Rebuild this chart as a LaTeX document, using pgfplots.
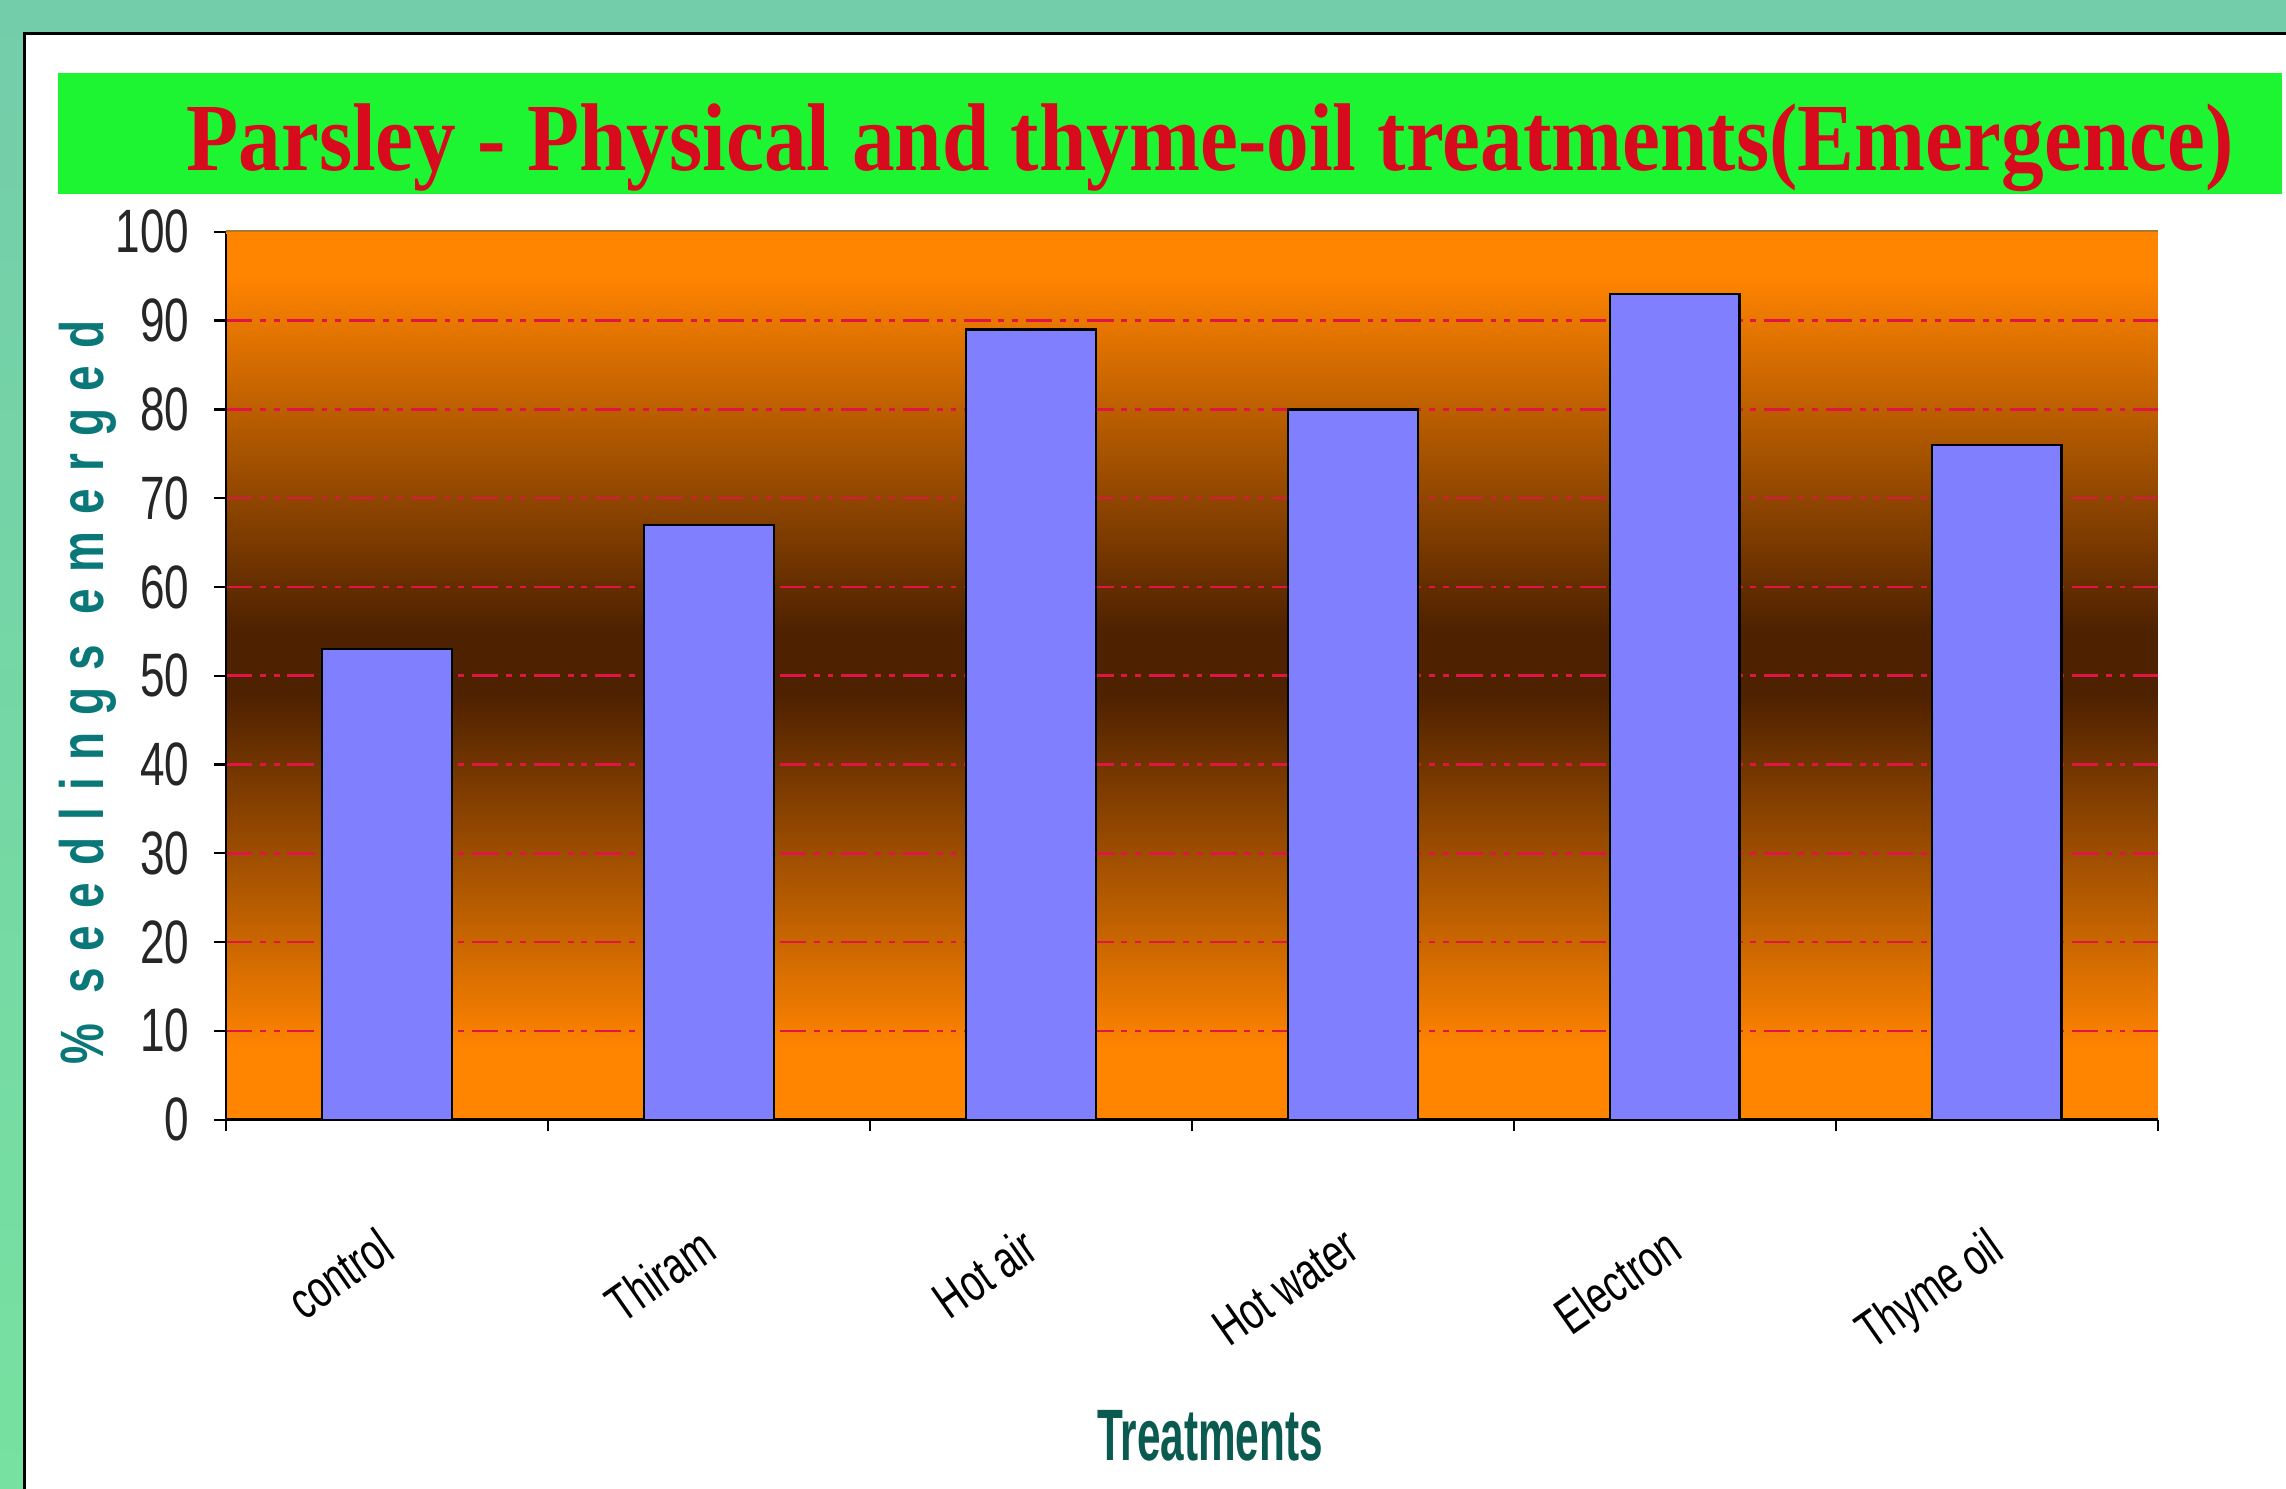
\documentclass[border=0pt]{standalone}
\usepackage{fontspec}
\setmainfont{Liberation Sans}
\newfontfamily\tickfont[FakeStretch=0.72]{Liberation Sans}
\newfontfamily\xlabfont[FakeStretch=0.58]{Liberation Sans}
\newfontfamily\ylabfont[FakeStretch=0.75,LetterSpace=28]{Liberation Sans}
\newfontfamily\titlefont{Liberation Serif}
\usepackage{graphicx}
\usepackage{pgfplots}
\pgfplotsset{compat=1.18}
\definecolor{orng}{RGB}{255,132,0}
\definecolor{dbrown}{RGB}{78,33,0}
\definecolor{barblue}{RGB}{128,128,255}
\definecolor{gridred}{RGB}{225,20,70}
\definecolor{tealbg}{RGB}{116,205,170}
\definecolor{tealbg2}{RGB}{118,225,160}
\definecolor{titlegreen}{RGB}{30,245,50}
\definecolor{titlered}{RGB}{215,10,30}
\definecolor{ylabteal}{RGB}{10,120,120}
\definecolor{xlabteal}{RGB}{10,90,80}
\definecolor{topedge}{RGB}{170,120,50}
\pgfdeclareverticalshading{bgshade}{100bp}{color(0bp)=(orng); color(29bp)=(orng); color(49bp)=(dbrown); color(52.5bp)=(dbrown); color(72.5bp)=(orng); color(100bp)=(orng)}
\begin{document}
\begin{tikzpicture}
\shade[top color=tealbg, bottom color=tealbg2] (-77.5pt,-126.5pt) rectangle (706.5pt,384pt);
\fill[white] (-69pt,-126.5pt) rectangle (706.5pt,372.5pt);
\draw[black, line width=1pt] (-69pt,-127pt) -- (-69pt,372.5pt) -- (707pt,372.5pt);
\fill[titlegreen] (-57.5pt,317.5pt) rectangle (705pt,359pt);
\begin{axis}[
  at={(0pt,0pt)}, anchor=south west,
  scale only axis, width=662.5pt, height=304.5pt,
  xmin=-0.5, xmax=5.5, ymin=0, ymax=100,
  clip=false,
  axis lines=left, axis line style={-, line width=1pt, black},
  axis background/.style={shade, shading=bgshade},
  ytick={0,10,...,100},
  xtick={0,...,5},
  xticklabels={control,Thiram,Hot air,Hot water,Electron,Thyme oil},
  minor xtick={-0.5,0.5,...,5.5},
  tick align=outside,
  major tick length=4pt, minor tick length=4pt,
  major x tick style={draw=none},
  tick style={black, line width=0.8pt},
  ymajorgrids,
  major grid style={gridred, line width=0.9pt, dash pattern=on 9pt off 2.7pt on 2pt off 2.7pt on 2pt off 2.7pt},
  /pgf/number format/assume math mode=true,
  yticklabel style={font=\tickfont\fontsize{21}{21}\selectfont, text=black!85, xshift=-5pt},
  xticklabel style={xshift=-4pt, yshift=-32pt, rotate=35, anchor=north east, inner sep=0pt, font=\tickfont\fontsize{18}{18}\selectfont},
  title={\resizebox{702pt}{\height}{\titlefont\bfseries\fontsize{33}{33}\selectfont\color{titlered}Parsley - Physical and thyme-oil treatments(Emergence)}},
  title style={at={(axis description cs:0.5094,1.049)}, anchor=base, inner sep=0pt},
  xlabel={Treatments},
  xlabel style={at={(axis description cs:0.5094,-0.356)}, anchor=center, font=\xlabfont\bfseries\fontsize{25}{25}\selectfont, text=xlabteal},
  ylabel={\% seedlings emerged},
  ylabel style={at={(axis description cs:-0.0717,0.481)}, anchor=center, font=\ylabfont\bfseries\fontsize{21}{21}\selectfont, text=ylabteal},
]
\addplot[ybar, bar width=44.5pt, fill=barblue, draw=black, line width=0.8pt] coordinates {(0,53) (1,67) (2,89) (3,80) (4,93) (5,76)};
\draw[line width=1.6pt, white] ([yshift=0.8pt]rel axis cs:0,1) -- ([yshift=0.8pt]rel axis cs:1,1);
\draw[line width=1.2pt, orng] ([yshift=-0.3pt]rel axis cs:0,1) -- ([yshift=-0.3pt]rel axis cs:1,1);
\draw[line width=0.6pt, topedge] ([yshift=0.3pt]rel axis cs:0,1) -- ([yshift=0.3pt]rel axis cs:1,1);
\end{axis}
\pgfresetboundingbox
\path[use as bounding box] (-77.5pt,-126.5pt) rectangle (706.5pt,384pt);
\end{tikzpicture}
\end{document}
